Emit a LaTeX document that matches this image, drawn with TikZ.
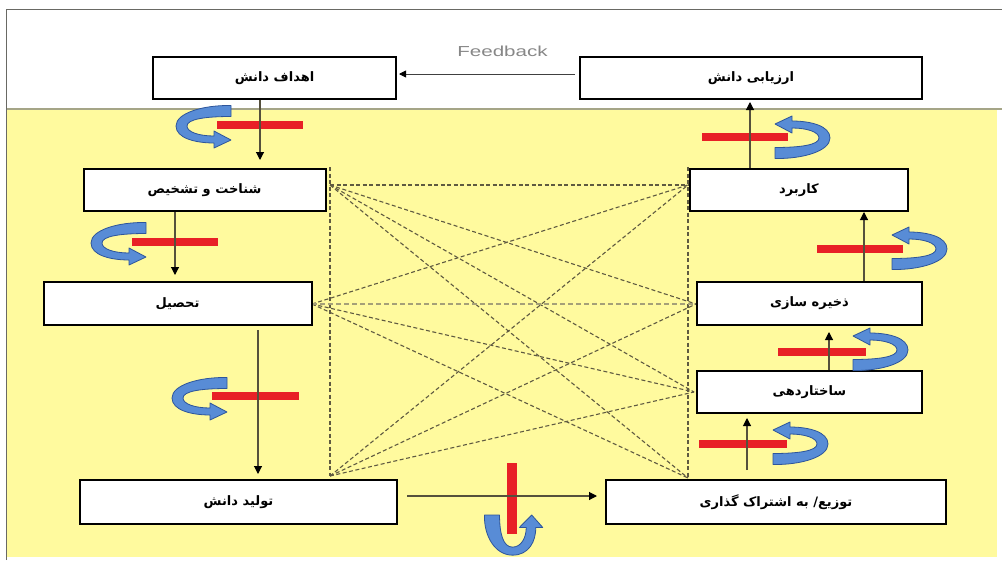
\documentclass[tikz,border=0pt]{standalone}
\usepackage{fontspec}
\usetikzlibrary{arrows.meta,calc}
\newfontfamily\fa[Script=Arabic]{DejaVu Sans}
\setsansfont{Liberation Sans}
\TeXXeTstate=1

\definecolor{paper}{RGB}{255,250,158}
\definecolor{framec}{RGB}{105,105,100}
\definecolor{sepc}{RGB}{165,165,135}
\definecolor{flowc}{RGB}{85,80,60}
\definecolor{linkc}{RGB}{95,90,65}
\definecolor{linklight}{RGB}{165,160,120}
\definecolor{barred}{RGB}{232,32,38}
\definecolor{bandfill}{RGB}{88,140,214}
\definecolor{banddraw}{RGB}{45,85,155}
\definecolor{fbgray}{RGB}{135,135,135}

\tikzset{
  box/.style={draw=black, line width=2pt, fill=white, inner sep=0pt,
    font=\fa\bfseries\fontsize{13}{15}\selectfont},
  flow/.style={draw=flowc, line width=1.1pt,
    -{Triangle[width=8pt,length=8pt,black]}},
  fbline/.style={draw=black!75, line width=0.9pt,
    -{Triangle[width=7pt,length=7pt,black]}},
  link/.style={draw=linkc, line width=1.1pt, dash pattern=on 4pt off 2.5pt},
  linkwide/.style={draw=linklight, line width=2pt, dash pattern=on 5pt off 3pt},
  bar/.style={draw=barred, line width=8pt},
  vbar/.style={draw=barred, line width=10pt},
  band/.style={fill=bandfill, draw=banddraw, line width=0.8pt, line join=round},
  % curved return arrow: plain end at the origin, bulging to the left,
  % head at the lower end pointing right
  uturnarrow/.pic={
    \filldraw[band] (0,-5.5) .. controls (-28,-6) and (-55,2) .. (-55,15)
      .. controls (-55,27) and (-36,32) .. (-17,32)
      -- (-17,37) -- (0,29) -- (-17,20) -- (-17,25)
      .. controls (-32,25) and (-44,21) .. (-44,15)
      .. controls (-44,8) and (-25,5.5) .. (0,5.5) -- cycle;
  }
}

\begin{document}
\begin{tikzpicture}[x=1pt,y=-1pt]
\useasboundingbox (0,0) rectangle (1002,560);
\fill[white] (0,0) rectangle (1002,560);
\fill[paper] (7,109) rectangle (997,557);
\draw[framec, line width=1.3pt] (6.5,560) -- (6.5,9.5) -- (1002,9.5);
\draw[sepc, line width=2pt] (7,108.5) -- (1002,108.5);

% dashed web between the two columns
\coordinate (pAt) at (330,167);
\coordinate (pA) at (330,185);
\coordinate (pB) at (312,304);
\coordinate (pC) at (330,476);
\coordinate (pDt) at (688,167);
\coordinate (pD) at (688,185);
\coordinate (pE) at (696,304);
\coordinate (pF) at (694,392);
\coordinate (pG) at (688,478);

\draw[link] (pAt) -- (pC);
\draw[link] (pDt) -- (pG);
\foreach \s in {pA,pB}{
  \foreach \t in {pD,pF,pG}{\draw[link] (\s) -- (\t);}}
\draw[link] (pA) -- (pE);
\draw[linkwide] (pB) -- (pE);
\foreach \t in {pD,pE,pF}{\draw[link] (pC) -- (\t);}

% boxes
\node[box, minimum width=243pt, minimum height=42pt] (ahdaf) at (274.5,78) {\beginR اهداف دانش\endR};
\node[box, minimum width=342pt, minimum height=42pt] (arzyabi) at (751,78) {\beginR ارزیابی دانش\endR};
\node[box, minimum width=242pt, minimum height=42pt] (shenakht) at (204.5,190) {\beginR شناخت و تشخیص\endR};
\node[box, minimum width=218pt, minimum height=42pt] (karbord) at (799,190) {\beginR کاربرد\endR};
\node[box, minimum width=268pt, minimum height=43pt] (tahsil) at (177.5,303.5) {\beginR تحصیل\endR};
\node[box, minimum width=225pt, minimum height=43pt] (zakhire) at (809.5,303.5) {\beginR ذخیره سازی\endR};
\node[box, minimum width=225pt, minimum height=42pt] (sakhtar) at (809.5,392) {\beginR ساختاردهی\endR};
\node[box, minimum width=317pt, minimum height=44pt] (tolid) at (238.5,502) {\beginR تولید دانش\endR};
\node[box, minimum width=340pt, minimum height=44pt] (tozi) at (776,502) {\beginR توزیع/ به اشتراک گذاری\endR};

% feedback
\node[font=\sffamily\fontsize{14.5}{16}\selectfont, text=fbgray, xscale=1.42, inner sep=0pt] (fb) at (502.5,51.5) {Feedback};
\draw[fbline] ($(arzyabi.west)+(-4,-4)$) -- ($(ahdaf.east)+(2,-4)$);

% red barriers
\draw[bar] (217,125) -- (303,125);
\draw[bar] (132,242) -- (218,242);
\draw[bar] (212,396) -- (299,396);
\draw[vbar] (512,463) -- (512,534);
\draw[bar] (699,444) -- (787,444);
\draw[bar] (778,352) -- (866,352);
\draw[bar] (817,249) -- (903,249);
\draw[bar] (702,137) -- (788,137);

% flow of the process
\coordinate (xa) at (260,0);
\coordinate (xb) at (175,0);
\coordinate (xc) at (258,0);
\coordinate (xe) at (747,0);
\coordinate (xf) at (829,0);
\coordinate (xg) at (864,0);
\coordinate (xh) at (750,0);
\coordinate (yd) at (0,496);

\draw[flow] (ahdaf.south -| xa) -- ($(shenakht.north -| xa)+(0,-8)$);
\draw[flow] (shenakht.south -| xb) -- ($(tahsil.north -| xb)+(0,-6)$);
\draw[flow] ($(tahsil.south -| xc)+(0,4)$) -- ($(tolid.north -| xc)+(0,-5)$);
\draw[flow] ($(tolid.east |- yd)+(9,0)$) -- ($(tozi.west |- yd)+(-8,0)$);
\draw[flow] ($(tozi.north -| xe)+(0,-9)$) -- ($(sakhtar.south -| xe)+(0,4)$);
\draw[flow] (sakhtar.north -| xf) -- ($(zakhire.south -| xf)+(0,6)$);
\draw[flow] (zakhire.north -| xg) -- (karbord.south -| xg);
\draw[flow] (karbord.north -| xh) -- ($(arzyabi.south -| xh)+(0,2)$);

% curved return arrows
\pic at (231,111) {uturnarrow};
\pic at (146,228) {uturnarrow};
\pic at (227,383) {uturnarrow};
\pic[rotate=180] at (775,153) {uturnarrow};
\pic[rotate=180] at (892,264) {uturnarrow};
\pic[rotate=180] at (853,365) {uturnarrow};
\pic[rotate=180] at (773,459) {uturnarrow};
\pic[rotate=90, xscale=0.73, yscale=1.37] at (492,515) {uturnarrow};
\end{tikzpicture}
\end{document}
